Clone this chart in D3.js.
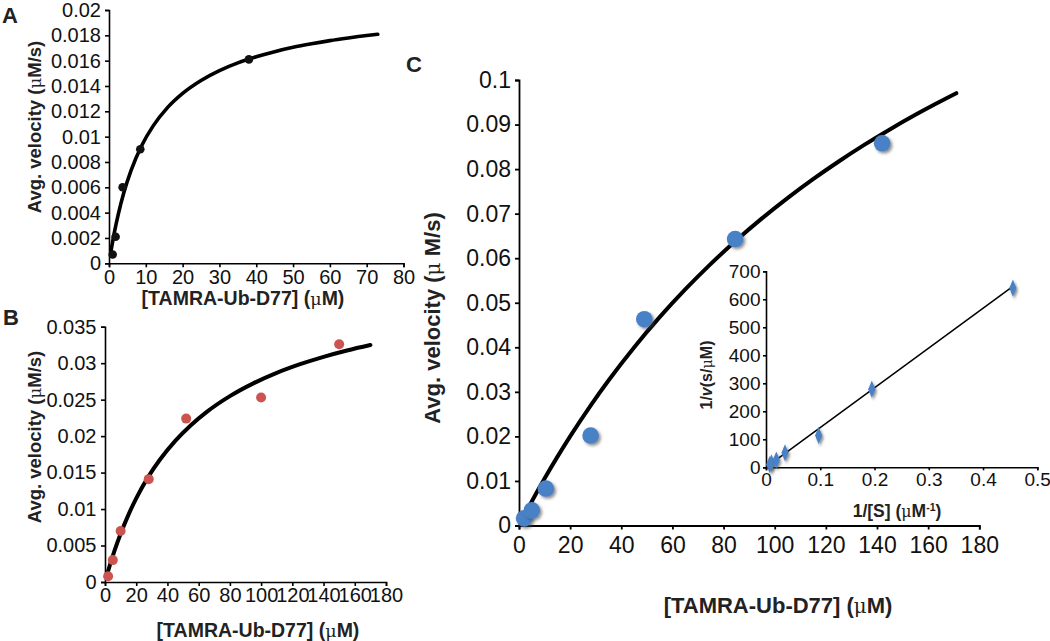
<!DOCTYPE html>
<html><head><meta charset="utf-8">
<script src="https://cdn.jsdelivr.net/npm/d3@7"></script>
<style>
html,body{margin:0;padding:0;background:#fff;}
svg{display:block;font-family:"Liberation Sans",Arial,sans-serif;}
</style></head>
<body>
<svg id="chart" width="1050" height="641"></svg>
<script>
// ---------------- DATA ----------------
// Panel A
const aPointX = [1, 1.8, 3.7, 8.5, 38];
const aPointY = [0.0007, 0.0021, 0.006, 0.009, 0.0161];
const aCurveX = [0.5, 1.5, 2.5, 4, 6, 9, 12, 16, 20, 25, 30, 35, 40, 45, 50, 55, 60, 65, 70, 73];
const aCurveY = [0.0009, 0.0025, 0.00385, 0.00555, 0.00734, 0.00936, 0.01085, 0.01233, 0.01342, 0.01444, 0.01522, 0.01583, 0.01631, 0.01671, 0.01705, 0.01733, 0.01758, 0.01779, 0.01798, 0.01808];
const aXTicks = [0, 10, 20, 30, 40, 50, 60, 70, 80];
const aYTicks = [0, 0.002, 0.004, 0.006, 0.008, 0.01, 0.012, 0.014, 0.016, 0.018, 0.02];
const aYTickLabels = ["0", "0.002", "0.004", "0.006", "0.008", "0.01", "0.012", "0.014", "0.016", "0.018", "0.02"];

// Panel B
const bPointX = [2, 5, 10, 28, 52, 100, 150];
const bPointY = [0.0008, 0.003, 0.007, 0.0141, 0.0224, 0.0253, 0.0326];
const bCurveX = [1, 3, 6, 10, 15, 20, 28, 35, 45, 55, 65, 80, 95, 110, 125, 140, 155, 170];
const bCurveY = [0.00077, 0.00222, 0.00423, 0.00662, 0.00921, 0.01147, 0.01451, 0.01672, 0.01935, 0.0215, 0.02329, 0.02548, 0.02723, 0.02867, 0.02986, 0.03087, 0.03174, 0.03249];
const bXTicks = [0, 20, 40, 60, 80, 100, 120, 140, 160, 180];
const bYTicks = [0, 0.005, 0.01, 0.015, 0.02, 0.025, 0.03, 0.035];
const bYTickLabels = ["0", "0.005", "0.01", "0.015", "0.02", "0.025", "0.03", "0.035"];

// Panel C
const cPointX = [2, 5, 10.5, 28, 49, 84.5, 142];
const cPointY = [0.0016, 0.0034, 0.0083, 0.0202, 0.0463, 0.0643, 0.0858];
const cCurveX = [3, 6, 10, 15, 20, 28, 35, 45, 55, 65, 75, 85, 95, 105, 115, 125, 135, 145, 155, 163, 171];
const cCurveY = [0.00328, 0.00646, 0.01054, 0.0154, 0.02001, 0.02693, 0.03255, 0.03997, 0.04676, 0.05298, 0.05872, 0.06402, 0.06893, 0.07349, 0.07774, 0.08171, 0.08543, 0.08891, 0.09219, 0.09467, 0.09704];
const cXTicks = [0, 20, 40, 60, 80, 100, 120, 140, 160, 180];
const cYTicks = [0, 0.01, 0.02, 0.03, 0.04, 0.05, 0.06, 0.07, 0.08, 0.09, 0.1];
const cYTickLabels = ["0", "0.01", "0.02", "0.03", "0.04", "0.05", "0.06", "0.07", "0.08", "0.09", "0.1"];

// Inset (Lineweaver-Burk)
const iPointX = [0.0067, 0.01, 0.019, 0.035, 0.097, 0.195, 0.455];
const iPointY = [10, 16, 26, 52, 114, 279, 640];
const iLineX = [0.003, 0.455];
const iLineY = [4, 646];
const iXTicks = [0, 0.1, 0.2, 0.3, 0.4, 0.5];
const iXTickLabels = ["0", "0.1", "0.2", "0.3", "0.4", "0.5"];
const iYTicks = [0, 100, 200, 300, 400, 500, 600, 700];

// ---------------- DRAW ----------------
const svg = d3.select("#chart");
const defs = svg.append("defs");
const f = defs.append("filter").attr("id", "shadow").attr("x", "-50%").attr("y", "-50%").attr("width", "200%").attr("height", "200%");
f.append("feDropShadow").attr("dx", 2).attr("dy", 2).attr("stdDeviation", 1.4).attr("flood-color", "#444").attr("flood-opacity", 0.6);

const MU_FONT = "'DejaVu Serif','Liberation Serif',serif";

function styleAxis(g, fontSize, lw) {
  g.select(".domain").attr("stroke", "#000").attr("stroke-width", lw);
  g.selectAll(".tick line").attr("stroke", "#000").attr("stroke-width", lw);
  g.selectAll(".tick text").attr("font-size", fontSize).attr("fill", "#111")
    .attr("font-family", "'Liberation Sans',Arial,sans-serif");
}

function muLabel(sel, parts) {
  parts.forEach(p => {
    const t = sel.append("tspan").text(p[0]);
    if (p[1] === "mu") t.attr("font-family", MU_FONT).attr("font-weight", "normal").attr("font-size", "0.9em");
    if (p[1] === "i") t.attr("font-style", "italic");
    if (p[1] === "sup") t.attr("baseline-shift", "super").attr("font-size", "0.6em");
  });
}

function panel(cfg) {
  const x = d3.scaleLinear().domain(cfg.xDomain).range(cfg.xRange);
  const y = d3.scaleLinear().domain(cfg.yDomain).range(cfg.yRange);
  const g = svg.append("g");
  const xa = d3.axisBottom(x).tickValues(cfg.xTicks).tickSizeOuter(0).tickSize(cfg.tick).tickPadding(cfg.xPad)
    .tickFormat((d, i) => cfg.xLabels ? cfg.xLabels[i] : String(d));
  const ya = d3.axisLeft(y).tickValues(cfg.yTicks).tickSizeOuter(0).tickSize(cfg.tick).tickPadding(cfg.yPad)
    .tickFormat((d, i) => cfg.yLabels ? cfg.yLabels[i] : String(d));
  const gx = g.append("g").attr("transform", `translate(0,${cfg.yRange[0]})`).call(xa);
  const gy = g.append("g").attr("transform", `translate(${cfg.xRange[0]},0)`).call(ya);
  styleAxis(gx, cfg.fs, cfg.axisW);
  styleAxis(gy, cfg.fs, cfg.axisW);
  return {x, y, g, gx, gy};
}

// ---- Panel A ----
{
  const p = panel({xDomain:[0,80], xRange:[109,403.5], yDomain:[0,0.02], yRange:[263.3,10],
    xTicks:aXTicks, yTicks:aYTicks, yLabels:aYTickLabels, tick:4, xPad:3, yPad:4, fs:20, axisW:1.6});
  const line = d3.line().x(d => p.x(d[0])).y(d => p.y(d[1])).curve(d3.curveMonotoneX);
  p.g.append("path").datum(aCurveX.map((v,i)=>[v,aCurveY[i]])).attr("d", line)
    .attr("fill","none").attr("stroke","#000").attr("stroke-width",3.6).attr("stroke-linecap","round");
  p.g.selectAll("circle.a").data(aPointX.map((v,i)=>[v,aPointY[i]])).join("circle")
    .attr("cx", d=>p.x(d[0])).attr("cy", d=>p.y(d[1])).attr("r",4.3).attr("fill","#111");
  const t = svg.append("text").attr("x",243).attr("y",305).attr("text-anchor","middle").attr("font-weight","bold").attr("font-size",19.5).attr("fill","#222");
  muLabel(t, [["[TAMRA-Ub-D77] ("], ["μ","mu"], ["M)"]]);
  const ty = svg.append("text").attr("transform","translate(41,127) rotate(-90)").attr("text-anchor","middle").attr("font-weight","bold").attr("font-size",18.5).attr("fill","#222");
  muLabel(ty, [["Avg. velocity ("], ["μ","mu"], ["M/s)"]]);
  svg.append("text").attr("x",2).attr("y",23).attr("font-weight","bold").attr("font-size",22).attr("fill","#222").text("A");
}

// ---- Panel B ----
{
  const p = panel({xDomain:[0,180], xRange:[105,386], yDomain:[0,0.035], yRange:[582,326.7],
    xTicks:bXTicks, yTicks:bYTicks, yLabels:bYTickLabels, tick:4, xPad:2, yPad:4.5, fs:20, axisW:1.6});
  const line = d3.line().x(d => p.x(d[0])).y(d => p.y(d[1])).curve(d3.curveMonotoneX);
  p.g.append("path").datum(bCurveX.map((v,i)=>[v,bCurveY[i]])).attr("d", line)
    .attr("fill","none").attr("stroke","#000").attr("stroke-width",4).attr("stroke-linecap","round");
  p.g.selectAll("circle.b").data(bPointX.map((v,i)=>[v,bPointY[i]])).join("circle")
    .attr("cx", d=>p.x(d[0])).attr("cy", d=>p.y(d[1])).attr("r",5).attr("fill","#cc5450");
  const t = svg.append("text").attr("x",258).attr("y",637).attr("text-anchor","middle").attr("font-weight","bold").attr("font-size",19.5).attr("fill","#222");
  muLabel(t, [["[TAMRA-Ub-D77] ("], ["μ","mu"], ["M)"]]);
  const ty = svg.append("text").attr("transform","translate(41,437) rotate(-90)").attr("text-anchor","middle").attr("font-weight","bold").attr("font-size",18.5).attr("fill","#222");
  muLabel(ty, [["Avg. velocity ("], ["μ","mu"], ["M/s)"]]);
  svg.append("text").attr("x",3).attr("y",325).attr("font-weight","bold").attr("font-size",22).attr("fill","#222").text("B");
}

// ---- Panel C ----
{
  const p = panel({xDomain:[0,180], xRange:[519,979.3], yDomain:[0,0.1], yRange:[525.5,80],
    xTicks:cXTicks, yTicks:cYTicks, yLabels:cYTickLabels, tick:4, xPad:7, yPad:4, fs:23, axisW:1.8});
  const line = d3.line().x(d => p.x(d[0])).y(d => p.y(d[1])).curve(d3.curveMonotoneX);
  p.g.append("path").datum(cCurveX.map((v,i)=>[v,cCurveY[i]])).attr("d", line)
    .attr("fill","none").attr("stroke","#000").attr("stroke-width",4).attr("stroke-linecap","round");
  p.g.selectAll("circle.c").data(cPointX.map((v,i)=>[v,cPointY[i]])).join("circle")
    .attr("cx", d=>p.x(d[0])).attr("cy", d=>p.y(d[1])).attr("r",8.3).attr("fill","#4a81c6")
    .attr("filter","url(#shadow)");
  const t = svg.append("text").attr("x",778).attr("y",613).attr("text-anchor","middle").attr("font-weight","bold").attr("font-size",22).attr("fill","#222");
  muLabel(t, [["[TAMRA-Ub-D77] ("], ["μ","mu"], ["M)"]]);
  const ty = svg.append("text").attr("transform","translate(440,318) rotate(-90)").attr("text-anchor","middle").attr("font-weight","bold").attr("font-size",22).attr("fill","#222");
  muLabel(ty, [["Avg. velocity ("], ["μ ","mu"], ["M/s)"]]);
  svg.append("text").attr("x",406).attr("y",72).attr("font-weight","bold").attr("font-size",22).attr("fill","#222").text("C");
}

// ---- Inset ----
{
  const p = panel({xDomain:[0,0.5], xRange:[766,1037.3], yDomain:[0,700], yRange:[467.3,271.3],
    xTicks:iXTicks, xLabels:iXTickLabels, yTicks:iYTicks, tick:3, xPad:2, yPad:2.5, fs:19, axisW:1.6});
  // keep the last x label inside the page edge
  p.gx.selectAll(".tick text").filter((d, i, n) => i === n.length - 1).attr("text-anchor", "end").attr("dx", 13);
  p.g.append("line").attr("x1",p.x(iLineX[0])).attr("y1",p.y(iLineY[0])).attr("x2",p.x(iLineX[1])).attr("y2",p.y(iLineY[1]))
    .attr("stroke","#000").attr("stroke-width",1.5);
  const diamond = d3.symbol().type(d3.symbolDiamond).size(70);
  p.g.selectAll("path.d").data(iPointX.map((v,i)=>[v,iPointY[i]])).join("path")
    .attr("d", diamond).attr("transform", d=>`translate(${p.x(d[0])},${p.y(d[1])}) scale(0.8,1.1)`)
    .attr("fill","#4a81c6").attr("filter","url(#shadow)");
  const t = svg.append("text").attr("x",897).attr("y",517).attr("text-anchor","middle").attr("font-weight","bold").attr("font-size",17.5).attr("fill","#222");
  muLabel(t, [["1/[S] ("], ["μ","mu"], ["M"], ["-1","sup"], [")"]]);
  const ty = svg.append("text").attr("transform","translate(712,375) rotate(-90)").attr("text-anchor","middle").attr("font-weight","bold").attr("font-size",16).attr("fill","#222");
  muLabel(ty, [["1/"], ["v","i"], ["(s/"], ["μ","mu"], ["M)"]]);
}
</script>
</body></html>
